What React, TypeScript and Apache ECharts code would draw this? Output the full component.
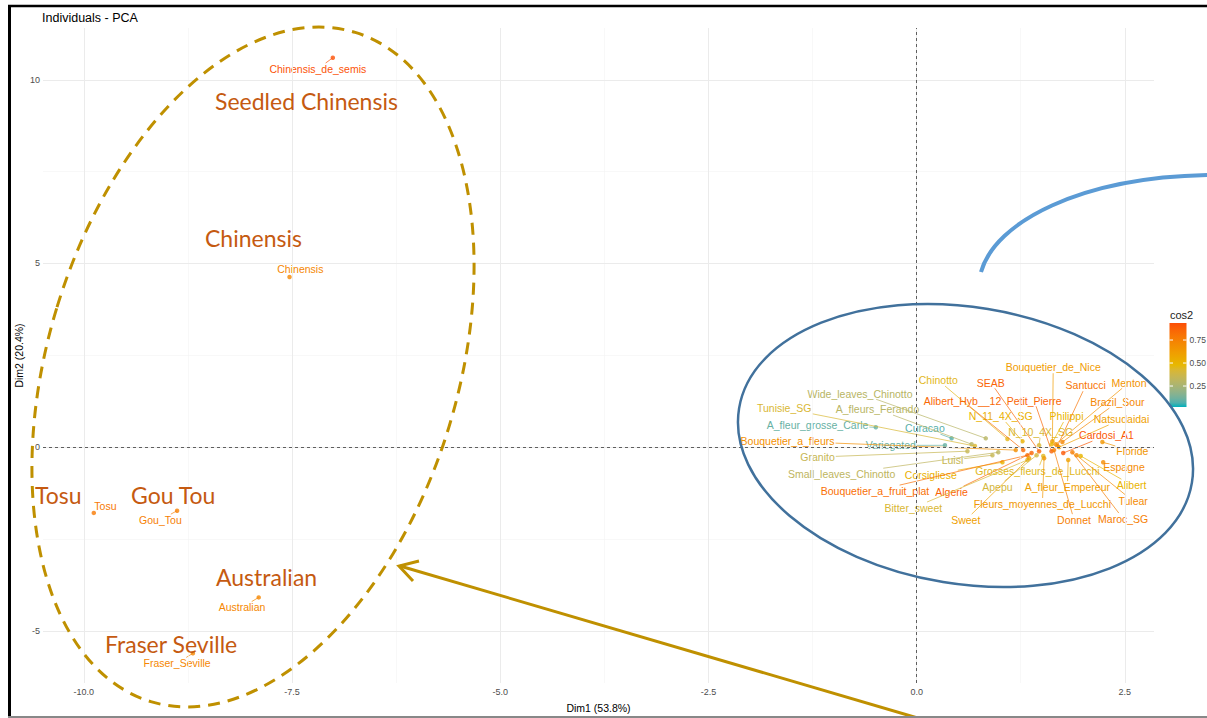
import React, { useEffect, useRef } from "react";
import * as echarts from "echarts";

// ---------- data ----------
const names = [
  "Chinensis_de_semis", "Chinensis", "Tosu", "Gou_Tou", "Australian", "Fraser_Seville",
  "Curacao", "Variegated", "A_fleur_grosse_Carle", "Wide_leaves_Chinotto", "A_fleurs_Ferando",
  "Tunisie_SG", "Bouquetier_a_fleurs", "Granito", "Luisi", "Small_leaves_Chinotto", "Corsigliese",
  "Bouquetier_a_fruit_plat", "Algerie", "Bitter_sweet", "Apepu", "Sweet", "Chinotto", "N_11_4X_SG",
  "Alibert_Hyb__12", "SEAB", "N_10_4X_SG", "Petit_Pierre", "Bouquetier_de_Nice", "Philippi",
  "Grosses_fleurs_de_Lucchi", "A_fleur_Empereur", "Fleurs_moyennes_de_Lucchi", "Donnet", "Santucci",
  "Menton", "Brazil_Sour", "Natsudaidai", "Cardosi_A1", "Floride", "Espagne", "Alibert", "Tulear", "Maroc_SG",
];

const dim1 = [
  -7.01, -7.53, -9.88, -8.88, -7.9, -8.69,
  0.42, 0.34, -0.49, 0.83, 0.66, 0.7, 1.19, 0.61, 0.91, 0.98, 1.03, 1.33, 1.38, 1.33, 1.44, 1.35,
  1.09, 1.27, 1.28, 1.47, 1.47, 1.62, 1.63, 1.62, 1.52, 1.82, 1.53, 1.65, 1.69, 1.67, 1.75, 1.71,
  1.76, 2.23, 2.24, 1.97, 1.92, 1.87,
];

const dim2 = [
  10.6, 4.63, -1.79, -1.73, -4.09, -5.61,
  0.24, 0.05, 0.54, 0.24, 0.08, 0.03, -0.08, -0.11, -0.22, -0.14, -0.41, -0.22, -0.16, -0.35, -0.22, -0.3,
  0.22, 0.16, -0.08, -0.11, 0.05, -0.11, 0.16, 0.08, -0.24, -0.35, -0.3, -0.08, 0.03, 0.08, 0.14, 0.0,
  -0.16, 0.14, -0.41, -0.24, -0.22, -0.14,
];

const cos2 = [
  0.92, 0.72, 0.78, 0.75, 0.72, 0.72,
  0.08, 0.1, 0.1, 0.3, 0.3, 0.42, 0.68, 0.35, 0.35, 0.32, 0.52, 0.82, 0.86, 0.42, 0.4, 0.6,
  0.46, 0.52, 0.84, 0.86, 0.42, 0.86, 0.62, 0.5, 0.45, 0.6, 0.65, 0.75, 0.8, 0.66, 0.72, 0.6,
  0.9, 0.65, 0.7, 0.5, 0.7, 0.76,
];

// repelled label anchors (data units)
const labelDim1 = [
  -7.19, -7.4, -9.74, -9.08, -8.1, -8.88,
  0.1, -0.31, -1.19, -0.68, -0.47, -1.59, -1.55, -1.19, 0.43, -0.9, 0.17, -0.5, 0.42, -0.04, 0.97, 0.59,
  0.26, 1.01, 0.55, 0.89, 1.49, 1.41, 1.64, 1.8, 1.45, 1.81, 1.51, 1.89, 2.03, 2.55, 2.41, 2.46,
  2.28, 2.59, 2.49, 2.58, 2.6, 2.48,
];
const labelDim2 = [
  10.3, 4.85, -1.6, -1.98, -4.36, -5.88,
  0.51, 0.05, 0.6, 1.46, 1.03, 1.06, 0.16, -0.27, -0.35, -0.73, -0.76, -1.19, -1.22, -1.65, -1.08, -1.98,
  1.82, 0.84, 1.27, 1.76, 0.41, 1.27, 2.17, 0.84, -0.65, -1.08, -1.54, -1.98, 1.68, 1.76, 1.22, 0.76,
  0.32, -0.11, -0.54, -1.03, -1.47, -1.95,
];

const xTicks = [-10, -7.5, -5, -2.5, 0, 2.5];
const yTicks = [-5, 0, 5, 10];
const xMinor = [-8.75, -6.25, -3.75, -1.25, 1.25];
const yMinor = [-2.5, 2.5, 7.5];
const legendTicks = [0.25, 0.5, 0.75];
const cosMin = 0.022;
const cosMax = 0.935;

const annotations = [
  { text: "Seedled Chinensis", x: 215, y: 101 },
  { text: "Chinensis", x: 205, y: 238 },
  { text: "Tosu", x: 35, y: 495 },
  { text: "Gou Tou", x: 131, y: 495 },
  { text: "Australian", x: 216, y: 577 },
  { text: "Fraser Seville", x: 105, y: 644 },
];

// ---------- colour helpers (CIELAB interpolation like ggplot) ----------
const GRAD = [
  [0, 175, 187],
  [231, 184, 0],
  [252, 78, 7],
];
function toLin(c: number) {
  c /= 255;
  return c <= 0.04045 ? c / 12.92 : Math.pow((c + 0.055) / 1.055, 2.4);
}
function fromLin(c: number) {
  const v = c <= 0.0031308 ? 12.92 * c : 1.055 * Math.pow(c, 1 / 2.4) - 0.055;
  return Math.round(Math.max(0, Math.min(1, v)) * 255);
}
function f(t: number) {
  return t > 0.008856 ? Math.cbrt(t) : 7.787 * t + 16 / 116;
}
function finv(t: number) {
  const t3 = t * t * t;
  return t3 > 0.008856 ? t3 : (t - 16 / 116) / 7.787;
}
function rgbToLab(c: number[]) {
  const r = toLin(c[0]), g = toLin(c[1]), b = toLin(c[2]);
  const X = (0.4124 * r + 0.3576 * g + 0.1805 * b) / 0.95047;
  const Y = 0.2126 * r + 0.7152 * g + 0.0722 * b;
  const Z = (0.0193 * r + 0.1192 * g + 0.9505 * b) / 1.08883;
  return [116 * f(Y) - 16, 500 * (f(X) - f(Y)), 200 * (f(Y) - f(Z))];
}
function labToRgb(l: number[]) {
  const fy = (l[0] + 16) / 116;
  const fx = fy + l[1] / 500;
  const fz = fy - l[2] / 200;
  const X = finv(fx) * 0.95047, Y = finv(fy), Z = finv(fz) * 1.08883;
  const r = 3.2406 * X - 1.5372 * Y - 0.4986 * Z;
  const g = -0.9689 * X + 1.8758 * Y + 0.0415 * Z;
  const b = 0.0557 * X - 0.204 * Y + 1.057 * Z;
  return [fromLin(r), fromLin(g), fromLin(b)];
}
const GRAD_LAB = GRAD.map(rgbToLab);
function colorAt(t: number) {
  t = Math.max(0, Math.min(1, t));
  const seg = t < 0.5 ? 0 : 1;
  const u = t < 0.5 ? t * 2 : (t - 0.5) * 2;
  const a = GRAD_LAB[seg], b = GRAD_LAB[seg + 1];
  const c = labToRgb(a.map((v, i) => v + (b[i] - v) * u));
  return `rgb(${c[0]},${c[1]},${c[2]})`;
}
function colorFor(v: number) {
  return colorAt((v - cosMin) / (cosMax - cosMin));
}

const FONT_FAMILY = "'Liberation Sans', Arial, sans-serif";
const LABEL_SIZE = 10.5;
const LABEL_FONT = `${LABEL_SIZE}px ${FONT_FAMILY}`;
let measureCtx: CanvasRenderingContext2D | null = null;
function textWidth(s: string) {
  if (!measureCtx) measureCtx = document.createElement("canvas").getContext("2d");
  if (!measureCtx) return s.length * 5.5;
  measureCtx.font = LABEL_FONT;
  return measureCtx.measureText(s).width;
}

export default function App() {
  const ref = useRef<HTMLDivElement>(null);
  useEffect(() => {
    if (!ref.current) return;
    const chart = echarts.init(ref.current, undefined, { renderer: "svg" });
    const pts = names.map((n, i) => ({
      value: [dim1[i], dim2[i]],
      name: n,
      itemStyle: { color: colorFor(cos2[i]) },
    }));

    const gridLines = [
      ...xMinor.map((v) => ({ xAxis: v, lineStyle: { color: "#F4F4F4", width: 0.6, type: "solid" } })),
      ...yMinor.map((v) => ({ yAxis: v, lineStyle: { color: "#F4F4F4", width: 0.6, type: "solid" } })),
      ...xTicks.map((v) => ({ xAxis: v, lineStyle: { color: "#EBEBEB", width: 1, type: "solid" } })),
      ...yTicks.map((v) => ({ yAxis: v, lineStyle: { color: "#EBEBEB", width: 1, type: "solid" } })),
    ];

    const barX = 1169.5, barY = 323, barW = 17, barH = 84;
    const stops = [];
    for (let k = 0; k <= 20; k++) stops.push({ offset: k / 20, color: colorAt(1 - k / 20) });
    const legendEls: any[] = [
      {
        type: "text",
        style: { text: "cos2", x: 1170, y: 315, font: `11px ${FONT_FAMILY}`, fill: "#222", align: "left", verticalAlign: "middle", textAlign: "left", textVerticalAlign: "middle" },
      },
      {
        type: "rect",
        shape: { x: barX, y: barY, width: barW, height: barH },
        style: { fill: new echarts.graphic.LinearGradient(0, 0, 0, 1, stops) },
      },
    ];
    legendTicks.forEach((v) => {
      const y = barY + barH - ((v - cosMin) / (cosMax - cosMin)) * barH;
      legendEls.push(
        { type: "line", shape: { x1: barX, y1: y, x2: barX + 3.5, y2: y }, style: { stroke: "#fff", lineWidth: 1 } },
        { type: "line", shape: { x1: barX + barW - 3.5, y1: y, x2: barX + barW, y2: y }, style: { stroke: "#fff", lineWidth: 1 } },
        {
          type: "text",
          style: { text: v.toFixed(2), x: 1189.5, y, font: `8.5px ${FONT_FAMILY}`, fill: "#4D4D4D", align: "left", verticalAlign: "middle", textAlign: "left", textVerticalAlign: "middle" },
        }
      );
    });

    const annEls = annotations.map((a) => ({
      type: "text",
      z: 100,
      style: { text: a.text, x: a.x, y: a.y, font: `23px Lato, 'Open Sans', sans-serif`, fill: "#C55A11", align: "left", verticalAlign: "middle", textAlign: "left", textVerticalAlign: "middle" },
    }));

    const option: any = {
      animation: false,
      backgroundColor: "#fff",
      title: {
        text: "Individuals - PCA",
        left: 42,
        top: 11,
        padding: 0,
        textStyle: { fontSize: 12.5, fontWeight: "normal", color: "#000", fontFamily: FONT_FAMILY },
      },
      grid: { left: 43, right: 53, top: 28, bottom: 32 },
      xAxis: {
        type: "value",
        min: -10.49,
        max: 2.85,
        splitLine: { show: false },
        axisLine: { show: false },
        axisTick: { show: true, customValues: xTicks, length: 3, lineStyle: { color: "#444", width: 0.6 } },
        axisLabel: {
          customValues: xTicks,
          formatter: (v: number) => v.toFixed(1),
          color: "#4D4D4D",
          fontSize: 9,
          margin: 4,
          fontFamily: FONT_FAMILY,
        },
        name: "Dim1 (53.8%)",
        nameLocation: "middle",
        nameGap: 19,
        nameMoveOverlap: false,
        nameTextStyle: { color: "#000", fontSize: 10.5, fontFamily: FONT_FAMILY },
      },
      yAxis: {
        type: "value",
        min: -6.42,
        max: 11.41,
        splitLine: { show: false },
        axisLine: { show: false },
        axisTick: { show: true, customValues: yTicks, length: 3, lineStyle: { color: "#444", width: 0.6 } },
        axisLabel: {
          customValues: yTicks,
          formatter: (v: number) => String(v),
          color: "#4D4D4D",
          fontSize: 9,
          margin: 3,
          fontFamily: FONT_FAMILY,
        },
        name: "Dim2 (20.4%)",
        nameLocation: "middle",
        nameGap: 19,
        nameMoveOverlap: false,
        nameTextStyle: { color: "#000", fontSize: 10.5, fontFamily: FONT_FAMILY },
      },
      series: [
        {
          type: "scatter",
          data: [],
          z: 0,
          silent: true,
          markLine: { silent: true, symbol: ["none", "none"], label: { show: false }, data: gridLines },
        },
        {
          type: "scatter",
          data: [],
          z: 1,
          silent: true,
          markLine: {
            silent: true,
            symbol: ["none", "none"],
            label: { show: false },
            lineStyle: { color: "#000", width: 0.6, type: [3, 3] },
            data: [{ xAxis: 0 }, { yAxis: 0 }],
          },
        },
        {
          type: "scatter",
          z: 2,
          symbolSize: 4.5,
          data: pts,
        },
        {
          type: "custom",
          z: 3,
          clip: false,
          data: names.map((n, i) => [dim1[i], dim2[i]]),
          renderItem: (params: any, api: any) => {
            const i = params.dataIndex;
            const p = api.coord([dim1[i], dim2[i]]);
            const l = api.coord([labelDim1[i], labelDim2[i]]);
            const col = colorFor(cos2[i]);
            const w = textWidth(names[i]);
            const hw = w / 2 + 1;
            const hh = LABEL_SIZE / 2 + 0.5;
            const dx = p[0] - l[0];
            const dy = p[1] - l[1];
            const tx = dx !== 0 ? hw / Math.abs(dx) : Infinity;
            const ty = dy !== 0 ? hh / Math.abs(dy) : Infinity;
            const t = Math.min(tx, ty);
            const children: any[] = [];
            if (t < 1) {
              const sx = l[0] + dx * t;
              const sy = l[1] + dy * t;
              const len = Math.hypot(p[0] - sx, p[1] - sy);
              if (len > 5) {
                children.push({
                  type: "line",
                  shape: { x1: sx, y1: sy, x2: p[0], y2: p[1] },
                  style: { stroke: col, lineWidth: 0.7 },
                });
              }
            }
            children.push({
              type: "text",
              style: {
                text: names[i],
                x: l[0],
                y: l[1],
                fill: col,
                font: LABEL_FONT,
                align: "center",
                verticalAlign: "middle",
                textAlign: "center",
                textVerticalAlign: "middle",
              },
            });
            return { type: "group", children };
          },
        },
      ],
      graphic: [
        // frame
        { type: "line", z: 200, shape: { x1: 8, y1: 6, x2: 1207, y2: 6 }, style: { stroke: "#000", lineWidth: 2.5 } },
        { type: "line", z: 200, shape: { x1: 9.5, y1: 5, x2: 9.5, y2: 718 }, style: { stroke: "#000", lineWidth: 3 } },
        { type: "line", z: 200, shape: { x1: 8, y1: 717, x2: 1207, y2: 717 }, style: { stroke: "#888", lineWidth: 2 } },
        ...legendEls,
        // overlay annotations
        {
          type: "ellipse",
          z: 100,
          x: 253,
          y: 367,
          rotation: (-17 * Math.PI) / 180,
          shape: { cx: 0, cy: 0, rx: 205, ry: 350 },
          style: { fill: "none", stroke: "#BF9000", lineWidth: 3, lineDash: [12, 8] },
        },
        {
          type: "ellipse",
          z: 100,
          x: 965.5,
          y: 445.5,
          rotation: (-9.35 * Math.PI) / 180,
          shape: { cx: 0, cy: 0, rx: 229.4, ry: 138.3 },
          style: { fill: "none", stroke: "#41719C", lineWidth: 2.5 },
        },
        {
          type: "bezierCurve",
          z: 100,
          shape: { x1: 981, y1: 272, cpx1: 995, cpy1: 222, cpx2: 1080, cpy2: 177, x2: 1210, y2: 175 },
          style: { fill: "none", stroke: "#5B9BD5", lineWidth: 4 },
        },
        {
          type: "line",
          z: 100,
          shape: { x1: 921, y1: 719, x2: 400, y2: 566 },
          style: { stroke: "#BF9000", lineWidth: 3 },
        },
        {
          type: "polyline",
          z: 100,
          shape: { points: [[419, 561], [399, 566], [413, 581]] },
          style: { fill: "none", stroke: "#BF9000", lineWidth: 3 },
        },
        ...annEls,
      ],
    };
    chart.setOption(option);
    return () => chart.dispose();
  }, []);
  return (
    <div
      ref={ref}
      style={{ position: "fixed", left: 0, top: 0, width: 1207, height: 718, background: "#fff" }}
    />
  );
}
